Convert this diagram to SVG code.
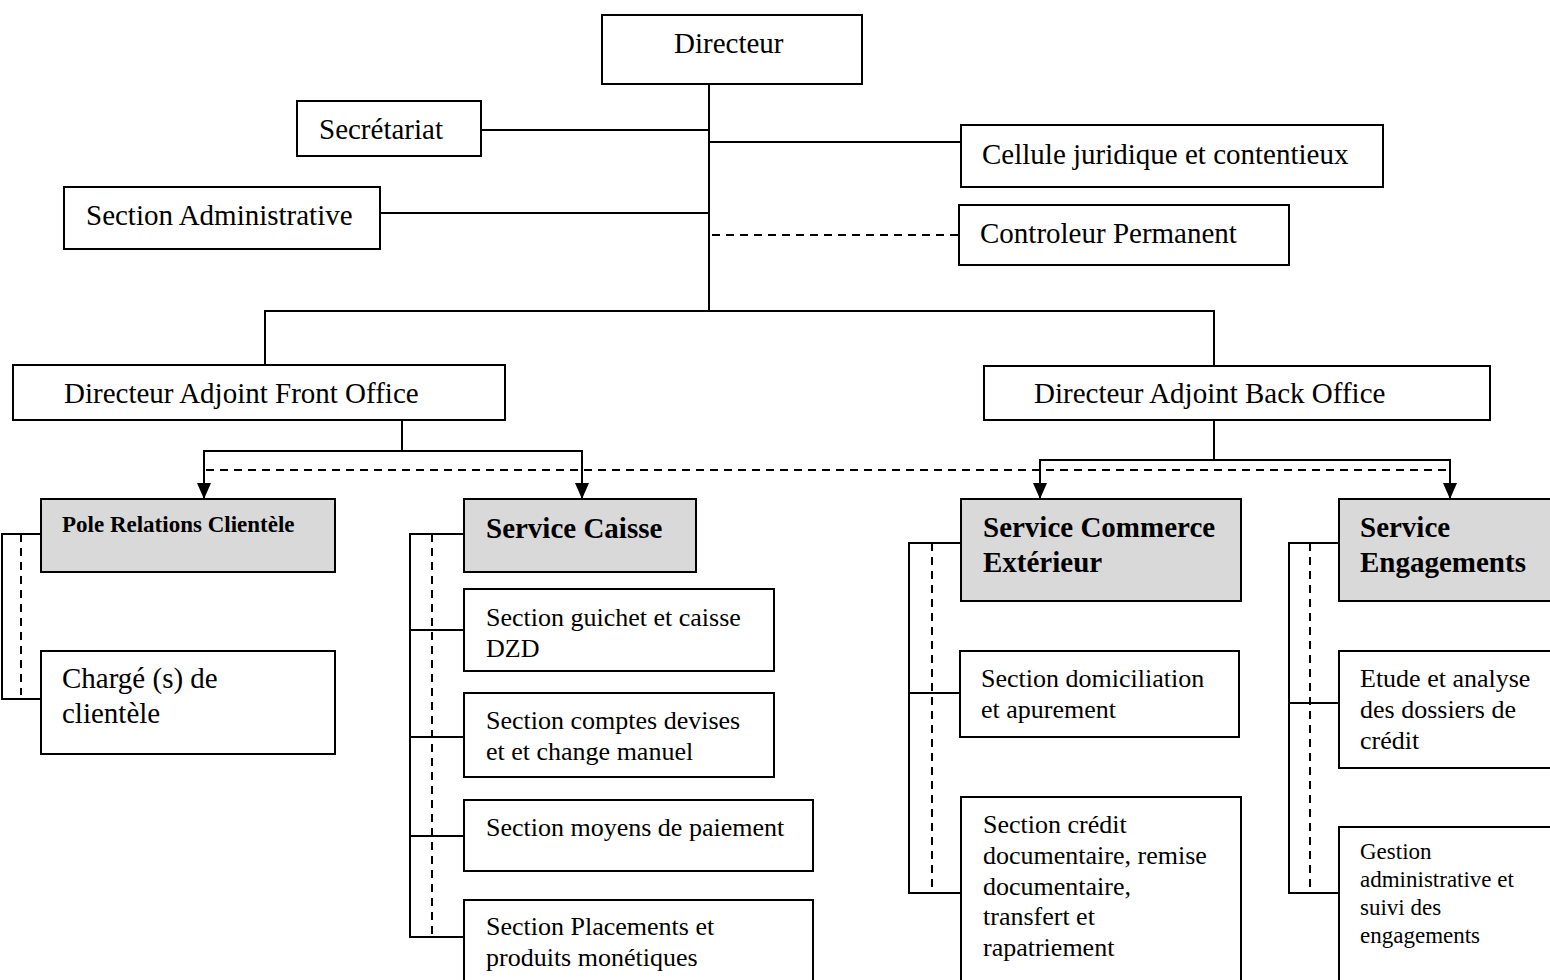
<svg xmlns="http://www.w3.org/2000/svg" width="1550" height="980" viewBox="0 0 1550 980">
<defs>
<marker id="arr" viewBox="0 0 16 14" refX="16" refY="7" markerWidth="16" markerHeight="14" markerUnits="userSpaceOnUse" orient="auto-start-reverse">
<path d="M0,0 L16,7 L0,14 Z" fill="#000"/>
</marker>
<style>
rect{fill:#fff;stroke:#000;stroke-width:2}
rect.g{fill:#d9d9d9}
text{font-family:"Liberation Serif","Times New Roman",serif;fill:#000;font-size:29px}
text.s{font-size:26px}
text.b{font-weight:bold}
text.p{font-size:23px;font-weight:bold}
text.t{font-size:23px}
.c line,.c path{stroke:#000;stroke-width:2;fill:none}
.c .d{stroke-dasharray:8 6}
</style>
</defs>
<rect x="0" y="0" width="1550" height="980" style="fill:#fff;stroke:none"/>
<g class="c" id="connectors">
<line x1="709" y1="84" x2="709" y2="311"/>
<line x1="481" y1="130" x2="709" y2="130"/>
<line x1="709" y1="142" x2="961" y2="142"/>
<line x1="380" y1="213" x2="709" y2="213"/>
<line class="d" x1="712" y1="235" x2="959" y2="235"/>
<path d="M265,365 V311 H1214 V366"/>
<path d="M402,420 V451"/>
<path d="M204,499 V451 H582 V499" marker-start="url(#arr)" marker-end="url(#arr)"/>
<path d="M1214,420 V460"/>
<path d="M1040,499 V460 H1450 V499" marker-start="url(#arr)" marker-end="url(#arr)"/>
<line class="d" x1="206" y1="470" x2="1447" y2="470"/>
<path d="M41,534 H2 V699 H41"/>
<line class="d" x1="21" y1="534" x2="21" y2="695"/>
<path d="M464,534 H410 V937 H464"/>
<line x1="410" y1="630" x2="464" y2="630"/>
<line x1="410" y1="737" x2="464" y2="737"/>
<line x1="410" y1="836" x2="464" y2="836"/>
<line class="d" x1="432" y1="534" x2="432" y2="934"/>
<path d="M961,543 H909 V893 H961"/>
<line x1="909" y1="693" x2="961" y2="693"/>
<line class="d" x1="932" y1="543" x2="932" y2="888"/>
<path d="M1339,543 H1289 V893 H1339"/>
<line x1="1289" y1="703" x2="1339" y2="703"/>
<line class="d" x1="1310" y1="543" x2="1310" y2="888"/>
</g>
<g id="directeur"><rect x="602" y="15" width="260" height="69"/><text x="674" y="53">Directeur</text></g>
<g id="secretariat"><rect x="297" y="101" width="184" height="55"/><text x="319" y="139">Secrétariat</text></g>
<g id="section-admin"><rect x="64" y="187" width="316" height="62"/><text x="86" y="225">Section Administrative</text></g>
<g id="cellule"><rect x="961" y="125" width="422" height="62"/><text x="982" y="164">Cellule juridique et contentieux</text></g>
<g id="controleur"><rect x="959" y="205" width="330" height="60"/><text x="980" y="243">Controleur Permanent</text></g>
<g id="da-front"><rect x="13" y="365" width="492" height="55"/><text x="64" y="403">Directeur Adjoint Front Office</text></g>
<g id="da-back"><rect x="984" y="366" width="506" height="54"/><text x="1034" y="403">Directeur Adjoint Back Office</text></g>
<g id="pole"><rect class="g" x="41" y="499" width="294" height="73"/><text class="p" x="62" y="532">Pole Relations Clientèle</text></g>
<g id="charge"><rect x="41" y="651" width="294" height="103"/><text x="62" y="688">Chargé (s) de</text><text x="62" y="723">clientèle</text></g>
<g id="service-caisse"><rect class="g" x="464" y="499" width="232" height="73"/><text class="b" x="486" y="538">Service Caisse</text></g>
<g id="guichet"><rect x="464" y="589" width="310" height="82"/><text class="s" x="486" y="626">Section guichet et caisse</text><text class="s" x="486" y="657">DZD</text></g>
<g id="comptes"><rect x="464" y="693" width="310" height="84"/><text class="s" x="486" y="729">Section comptes devises</text><text class="s" x="486" y="760">et et change manuel</text></g>
<g id="moyens"><rect x="464" y="800" width="349" height="71"/><text class="s" x="486" y="836">Section moyens de paiement</text></g>
<g id="placements"><rect x="464" y="900" width="349" height="100"/><text class="s" x="486" y="935">Section Placements et</text><text class="s" x="486" y="966">produits monétiques</text></g>
<g id="service-commerce"><rect class="g" x="961" y="499" width="280" height="102"/><text class="b" x="983" y="537">Service Commerce</text><text class="b" x="983" y="572">Extérieur</text></g>
<g id="domiciliation"><rect x="960" y="651" width="279" height="86"/><text class="s" x="981" y="687">Section domiciliation</text><text class="s" x="981" y="718">et apurement</text></g>
<g id="credoc"><rect x="961" y="797" width="280" height="200"/><text class="s" x="983" y="833">Section crédit</text><text class="s" x="983" y="864">documentaire, remise</text><text class="s" x="983" y="895">documentaire,</text><text class="s" x="983" y="925">transfert et</text><text class="s" x="983" y="956">rapatriement</text></g>
<g id="service-engagements"><rect class="g" x="1339" y="499" width="220" height="102"/><text class="b" x="1360" y="537">Service</text><text class="b" x="1360" y="572">Engagements</text></g>
<g id="etude"><rect x="1339" y="651" width="220" height="117"/><text class="s" x="1360" y="687">Etude et analyse</text><text class="s" x="1360" y="718">des dossiers de</text><text class="s" x="1360" y="749">crédit</text></g>
<g id="gestion"><rect x="1339" y="827" width="220" height="170"/><text class="t" x="1360" y="859">Gestion</text><text class="t" x="1360" y="887">administrative et</text><text class="t" x="1360" y="915">suivi des</text><text class="t" x="1360" y="943">engagements</text></g>
</svg>
